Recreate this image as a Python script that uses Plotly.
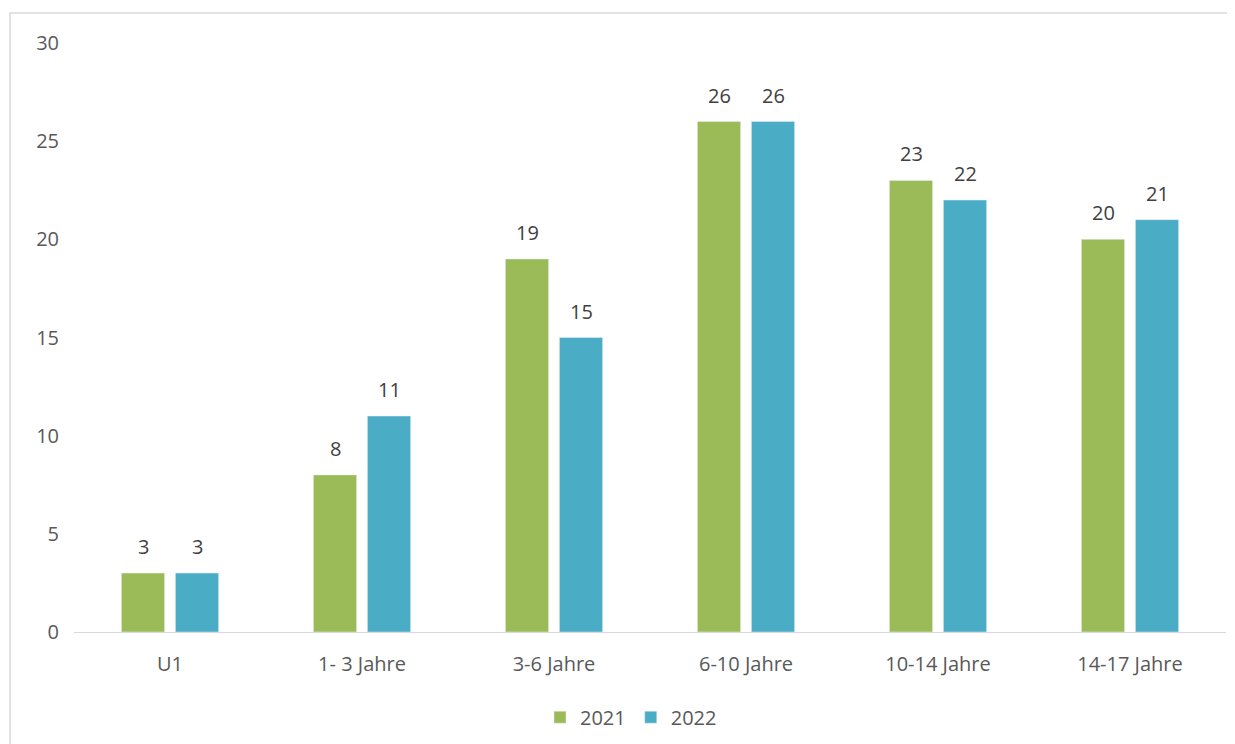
import plotly.graph_objects as go

categories = ["U1", "1- 3 Jahre", "3-6 Jahre", "6-10 Jahre", "10-14 Jahre", "14-17 Jahre"]
values_2021 = [3, 8, 19, 26, 23, 20]
values_2022 = [3, 11, 15, 26, 22, 21]
y_ticks = [0, 5, 10, 15, 20, 25, 30]

FONT = "Open Sans, Noto Sans, sans-serif"
TXT = "#595959"
FS = 20

# page body has an 8px margin
OFF = 8
W, H = 1235, 744
L = 74 - OFF
T = 43 - OFF
R = W - (1226 - OFF)
B = H - (632 - OFF)
pw, ph = W - L - R, H - T - B

BARGAP, GROUPGAP = 0.4375, 0.2
cat_w = pw / len(categories)
slot = cat_w * (1 - BARGAP) / 2

fig = go.Figure()
fig.add_trace(go.Bar(name="2021", x=categories, y=values_2021, marker_color="#9BBB59"))
fig.add_trace(go.Bar(name="2022", x=categories, y=values_2022, marker_color="#4BACC6"))

annotations = []
for series, shift in ((values_2021, -slot / 2), (values_2022, slot / 2)):
    for c, v in zip(categories, series):
        annotations.append(dict(x=c, y=v, xref="x", yref="y", text=str(v), showarrow=False,
                                xshift=shift, yshift=11, yanchor="bottom",
                                font=dict(size=FS, color="#404040", family=FONT)))

fig.update_layout(
    width=W, height=H,
    margin=dict(l=L, r=R, t=T, b=B),
    paper_bgcolor="white", plot_bgcolor="white",
    barmode="group", bargap=BARGAP, bargroupgap=GROUPGAP,
    font=dict(family=FONT, size=FS, color=TXT),
    showlegend=True,
    legend=dict(orientation="h", x=0.4835, xanchor="center", y=-0.1115, yanchor="top",
                font=dict(size=FS, color=TXT), itemwidth=30, traceorder="normal"),
    xaxis=dict(showline=True, linecolor="#D9D9D9", linewidth=1.3, ticks="",
               tickfont=dict(size=FS, color=TXT), showgrid=False, zeroline=False,
               ticklabelstandoff=14),
    yaxis=dict(range=[0, 30], tickvals=y_ticks, showgrid=False, showline=False,
               zeroline=False, ticks="", tickfont=dict(size=FS, color=TXT),
               ticklabelstandoff=14),
    annotations=annotations,
    shapes=[dict(type="rect", xref="paper", yref="paper",
                 x0=(10 - OFF - L) / pw, x1=(W + 20 - L) / pw,
                 y0=-(H + 20 - T - ph) / ph - 0.01, y1=(T + ph - (13 - OFF)) / ph,
                 line=dict(color="#D9D9D9", width=1.5), fillcolor="rgba(0,0,0,0)", layer="below")],
)

fig.write_html("out.html")
